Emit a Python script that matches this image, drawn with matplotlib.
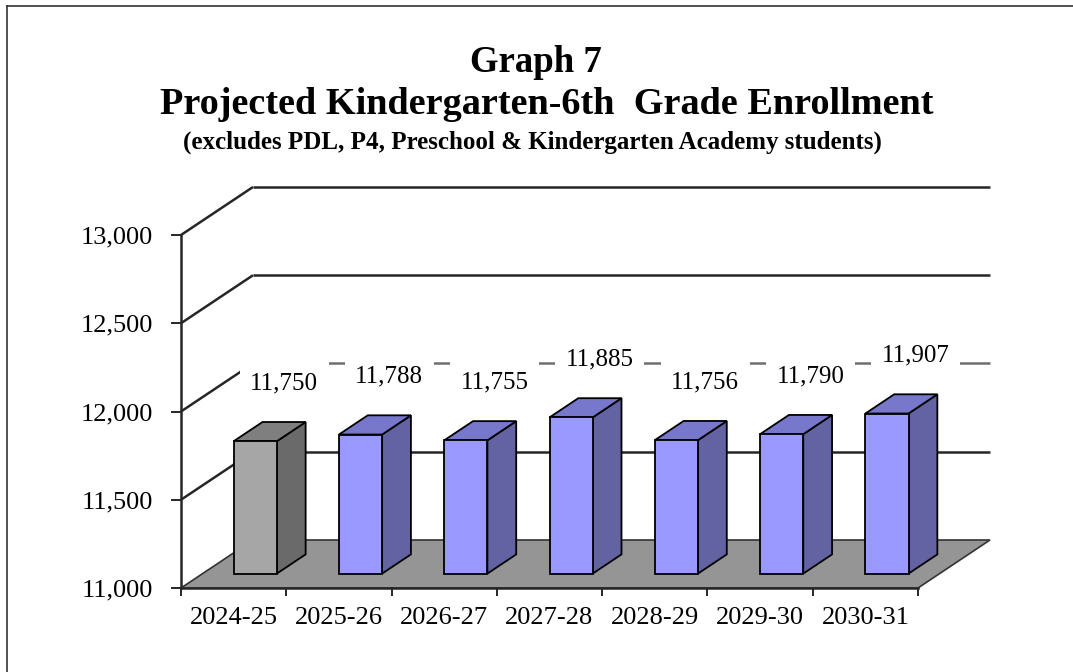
import matplotlib
matplotlib.use("Agg")
import matplotlib.pyplot as plt
from matplotlib.patches import Polygon

# ---------------- data
years = ["2024-25", "2025-26", "2026-27", "2027-28", "2028-29", "2029-30", "2030-31"]
enroll = [11750, 11788, 11755, 11885, 11756, 11790, 11907]
labels = ["11,750", "11,788", "11,755", "11,885", "11,756", "11,790", "11,907"]
yticks = [11000, 11500, 12000, 12500, 13000]
ytick_labels = ["11,000", "11,500", "12,000", "12,500", "13,000"]

# ---------------- look
W, H = 1073, 672
serif = "Liberation Serif"
ymin, ymax = 11000, 13000
DX = 0.684          # depth offset, in category units
DV = 272            # depth offset, in value units
bar_w = 0.41
z0, z1 = 0.3, 0.7   # bar front / back depth fraction

fig = plt.figure(figsize=(W / 100, H / 100), dpi=100)
ax = fig.add_axes([181 / W, (H - 588) / H, (918 - 181) / W, (588 - 235) / H])
ax.set_xlim(0, len(years))
ax.set_ylim(ymin, ymax)
ax.patch.set_alpha(0)


def P(x, v, z):
    return (x + DX * z, v + DV * z)


line_c = "#262626"
# left wall slants + back wall gridlines
for v in yticks[1:]:
    a, b, c2 = P(0, v, 0), P(0, v, 1), P(len(years), v, 1)
    ax.plot([a[0], b[0]], [a[1], b[1]], color=line_c, lw=1.8,
            clip_on=False, zorder=1, solid_capstyle="butt")
    back_c = "#6e6e6e" if v == 12000 else line_c
    ax.plot([b[0], c2[0]], [b[1], c2[1]], color=back_c, lw=1.8,
            clip_on=False, zorder=1, solid_capstyle="butt")

# floor
floor = [P(0, ymin, 0), P(len(years), ymin, 0), P(len(years), ymin, 1), P(0, ymin, 1)]
ax.add_patch(Polygon(floor, closed=True, facecolor="#959595", edgecolor="#333333",
                     lw=1.2, clip_on=False, zorder=2))

# bars
for i, val in enumerate(enroll):
    if i == 0:
        front_c, top_c, side_c = "#a6a6a6", "#7f7f7f", "#6a6a6a"
    else:
        front_c, top_c, side_c = "#9999ff", "#7777cc", "#6363a3"
    xl = i + 0.5 - bar_w / 2
    xr = i + 0.5 + bar_w / 2
    side = [P(xr, ymin, z0), P(xr, ymin, z1), P(xr, val, z1), P(xr, val, z0)]
    top = [P(xl, val, z0), P(xr, val, z0), P(xr, val, z1), P(xl, val, z1)]
    front = [P(xl, ymin, z0), P(xr, ymin, z0), P(xr, val, z0), P(xl, val, z0)]
    for poly, c in ((side, side_c), (top, top_c), (front, front_c)):
        ax.add_patch(Polygon(poly, closed=True, facecolor=c, edgecolor="black",
                             lw=1.3, clip_on=False, zorder=3 + i * 0.1,
                             joinstyle="miter"))

# value labels
for i, (val, lab) in enumerate(zip(enroll, labels)):
    bx, bv = P(i + 0.5, val, z1)
    ax.annotate(lab, (bx, bv), xytext=(0, 28), textcoords="offset points",
                ha="center", va="center", fontsize=18, family=serif,
                annotation_clip=False, zorder=10,
                bbox=dict(boxstyle="square,pad=0.42", fc="white", ec="none"))

# axes, ticks
for s in ("top", "right"):
    ax.spines[s].set_visible(False)
ax.spines["left"].set_color(line_c)
ax.spines["left"].set_linewidth(1.8)
ax.spines["bottom"].set_color(line_c)
ax.spines["bottom"].set_linewidth(1.8)
ax.spines["left"].set_zorder(5)
ax.spines["bottom"].set_zorder(5)
ax.set_yticks(yticks)
ax.set_yticklabels(ytick_labels, family=serif, fontsize=19)
ax.set_xticks(range(len(years) + 1))
ax.set_xticklabels([])
ax.set_xticks([i + 0.5 for i in range(len(years))], minor=True)
ax.set_xticklabels(years, minor=True, family=serif, fontsize=19)
ax.tick_params(axis="y", direction="out", length=7, width=1.4, color=line_c, pad=13)
ax.tick_params(axis="x", which="major", direction="out", length=6, width=1.4, color=line_c)
ax.tick_params(axis="x", which="minor", length=0, pad=14)

# titles
fig.text(536 / W, 1 - 62 / H, "Graph 7", ha="center", va="center",
         family=serif, fontweight="bold", fontsize=26.5)
fig.text(547 / W, 1 - 104 / H, "Projected Kindergarten-6th  Grade Enrollment",
         ha="center", va="center", family=serif, fontweight="bold", fontsize=27.5)
fig.text(532 / W, 1 - 142 / H,
         "(excludes PDL, P4, Preschool & Kindergarten Academy students)",
         ha="center", va="center", family=serif, fontweight="bold", fontsize=18)

# frame lines (left and top)
fig.add_artist(plt.Line2D([7 / W, 7 / W], [0, 1 - 6 / H], color="#333333", lw=1.2))
fig.add_artist(plt.Line2D([7 / W, 1], [1 - 6 / H, 1 - 6 / H], color="#333333", lw=1.2))

fig.savefig("out.png", dpi=100)
